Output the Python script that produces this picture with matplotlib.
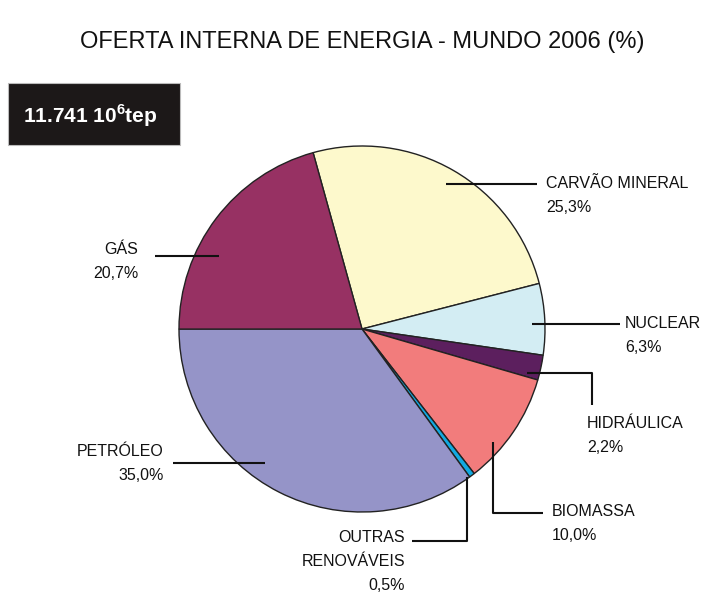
import matplotlib
matplotlib.use("Agg")
import matplotlib.pyplot as plt
from matplotlib.patches import Rectangle

# data (clockwise from the top)
labels = ["CARVÃO MINERAL", "NUCLEAR", "HIDRÁULICA", "BIOMASSA", "OUTRAS\nRENOVÁVEIS", "PETRÓLEO", "GÁS"]
values = [25.3, 6.3, 2.2, 10.0, 0.5, 35.0, 20.7]
colors = ["#fdf9cc", "#d3edf3", "#5c1f5e", "#f27c7c", "#12a9e0", "#9594c8", "#973163"]
total_text = "11.741 10$^{\\rm 6}$tep"
title = "OFERTA INTERNA DE ENERGIA - MUNDO 2006 (%)"

plt.rcParams['font.family'] = ['Liberation Sans', 'DejaVu Sans']
plt.rcParams['mathtext.fontset'] = 'custom'
plt.rcParams['mathtext.rm'] = 'Liberation Sans:bold'

W, H = 701, 595
fig = plt.figure(figsize=(W / 100, H / 100), dpi=100)
ax = fig.add_axes([0, 0, 1, 1])

def Y(y):
    # pixel row (from top) -> axes y
    return H - y

ax.pie(values, colors=colors, startangle=105.5, counterclock=False,
       center=(362, Y(329)), radius=183, frame=True,
       wedgeprops=dict(edgecolor="#222222", linewidth=1.0))
ax.set_xlim(0, W)
ax.set_ylim(0, H)
ax.axis("off")

# leader lines (pixel coords, y from top)
leaders = [
    [(446, 184), (537, 184)],
    [(532, 324), (620, 324)],
    [(527, 373), (592, 373), (592, 405)],
    [(493, 442), (493, 513), (543, 513)],
    [(467, 477), (467, 541), (412, 541)],
    [(265, 463), (173, 463)],
    [(219, 256), (155, 256)],
]
# label anchors: x, y of name line, alignment
anchors = [
    (546, 183, "left"),
    (625, 323, "left"),
    (587, 424, "left"),
    (552, 512, "left"),
    (405, 538, "right"),
    (164, 451, "right"),
    (138, 249, "right"),
]

for lab, v, pts, (tx, ty, ha) in zip(labels, values, leaders, anchors):
    xs = [p[0] for p in pts]
    ys = [Y(p[1]) for p in pts]
    ax.plot(xs, ys, color="#111111", lw=1.5, solid_capstyle="butt")
    lines = lab.split("\n") + [f"{v:.1f}".replace(".", ",") + "%"]
    for i, s in enumerate(lines):
        ax.text(tx, Y(ty + 24 * i), s, ha=ha, va="center", fontsize=11.5, color="#111111")

# title
ax.text(362, Y(42), title, ha="center", va="center", fontsize=17, color="#111111")

# total box
ax.add_patch(Rectangle((8, Y(145)), 172, 62, facecolor="#1c1818", edgecolor="#bbbbbb", lw=0.8))
ax.text(90, Y(116), total_text, ha="center", va="center", fontsize=15,
        fontweight="bold", color="white")

fig.savefig("out.png", dpi=100)
